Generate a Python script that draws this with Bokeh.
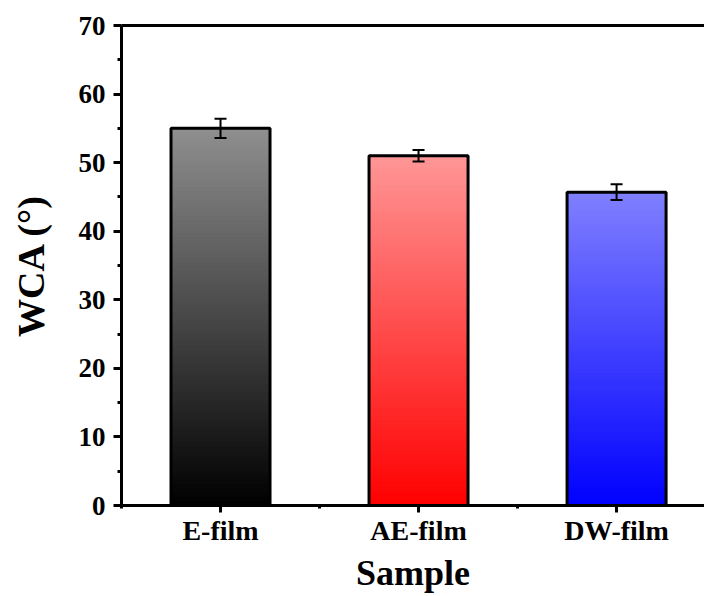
import numpy as np
from bokeh.plotting import figure
from bokeh.models import (ColumnDataSource, FixedTicker, Whisker, TeeHead, LinearAxis, Range1d)
from bokeh.embed import file_html
from bokeh.resources import INLINE

categories = ["E-film", "AE-film", "DW-film"]
wca = [55.0, 51.0, 45.7]
wca_err = [1.4, 0.85, 1.15]
bottom_colors = [(0, 0, 0), (255, 0, 0), (0, 0, 255)]
top_colors = [(143, 143, 143), (255, 150, 150), (128, 128, 255)]
y_ticks = [0, 10, 20, 30, 40, 50, 60, 70]

FONT = "Liberation Serif"
xpos = [i + 1 for i in range(len(categories))]
bar_w = 0.5

p = figure(width=704, height=596, output_backend="svg", toolbar_location=None,
           x_range=Range1d(0.5, 3.444), y_range=Range1d(0, 70),
           min_border_left=121, min_border_right=0, min_border_top=25, min_border_bottom=91)
p.outline_line_color = None
p.grid.visible = False
p.background_fill_color = "white"

# gradient fill through stacked, overlapping slices
n = 90
l, r, b, t, c = [], [], [], [], []
for x, v, bc, tc in zip(xpos, wca, bottom_colors, top_colors):
    edges = np.linspace(0, v, n + 1)
    for k in range(n):
        f = (k + 0.5) / n
        col = tuple(int(round(bc[j] + (tc[j] - bc[j]) * f)) for j in range(3))
        l.append(x - bar_w / 2); r.append(x + bar_w / 2)
        b.append(edges[k]); t.append(v)
        c.append("#%02x%02x%02x" % col)
p.quad(left=l, right=r, bottom=b, top=t, fill_color=c, line_color=None)

src = ColumnDataSource(dict(x=xpos, top=wca,
                            upper=[v + e for v, e in zip(wca, wca_err)],
                            lower=[v - e for v, e in zip(wca, wca_err)]))
p.vbar(x="x", top="top", width=bar_w, source=src, fill_color=None, line_color="black", line_width=3)
p.add_layout(Whisker(source=src, base="x", upper="upper", lower="lower", line_width=2, line_color="black",
                     level="overlay",
                     upper_head=TeeHead(size=12, line_width=2, line_color="black"),
                     lower_head=TeeHead(size=12, line_width=2, line_color="black")))

# axes
yax = p.yaxis[0]
yax.ticker = FixedTicker(ticks=y_ticks, minor_ticks=[v + 5 for v in y_ticks[:-1]])
yax.axis_label = "WCA (°)"
xax = p.xaxis[0]
xax.ticker = FixedTicker(ticks=xpos, minor_ticks=[0.5, 1.5, 2.5, 3.5])
xax.major_label_overrides = {x: cat for x, cat in zip(xpos, categories)}
xax.axis_label = "Sample"
for ax in (xax, yax):
    ax.axis_line_width = 3
    ax.axis_line_color = "black"
    ax.major_tick_line_width = 3
    ax.minor_tick_line_width = 3
    ax.major_tick_in = 0
    ax.minor_tick_in = 0
    ax.major_label_text_font = FONT
    ax.major_label_text_font_style = "bold"
    ax.major_label_text_color = "black"
    ax.axis_label_text_font = FONT
    ax.axis_label_text_font_style = "bold"
    ax.axis_label_text_color = "black"
yax.major_tick_out = 8
yax.minor_tick_out = 4
xax.major_tick_out = 7
xax.minor_tick_out = 3
yax.major_label_text_font_size = "27px"
xax.major_label_text_font_size = "28px"
yax.axis_label_text_font_size = "38px"
xax.axis_label_text_font_size = "36px"
yax.major_label_standoff = 8
xax.major_label_standoff = 2
yax.axis_label_standoff = 24
xax.axis_label_standoff = 4

top = LinearAxis(ticker=FixedTicker(ticks=[]), major_label_text_font_size="0px",
                 axis_line_width=3, axis_line_color="black",
                 major_tick_out=0, minor_tick_out=0, major_label_standoff=0)
p.add_layout(top, "above")

open("out.html", "w").write(file_html(p, INLINE))
